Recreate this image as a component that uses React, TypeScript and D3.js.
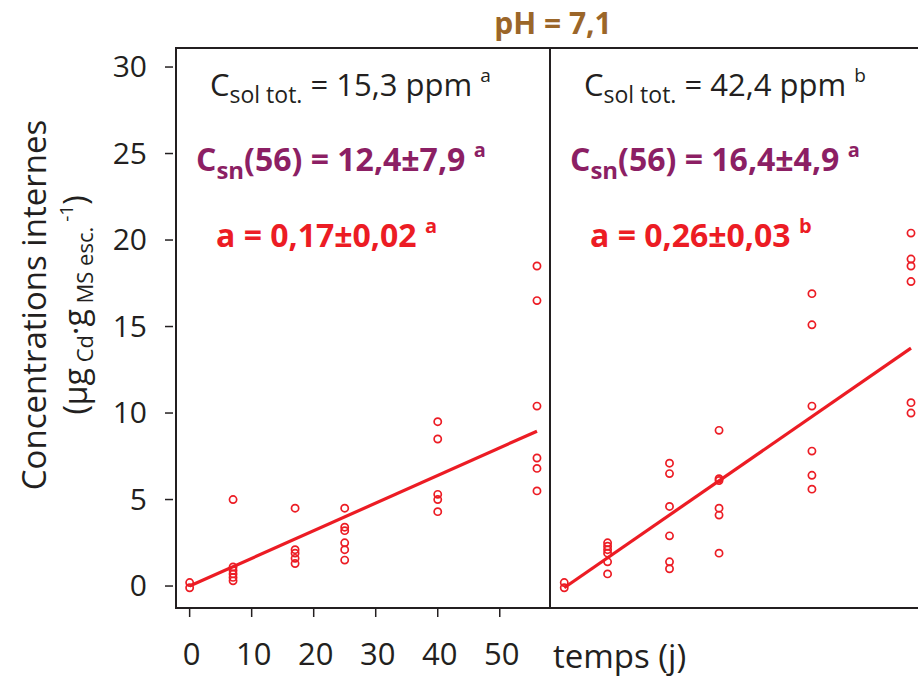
import * as d3 from "d3";

// sampling days (same for both soils)
const days = [0, 7, 17, 25, 40, 56];

// internal concentrations, soil at 15,3 ppm
const leftValues = [
  [0.2, -0.1],
  [5.0, 1.1, 0.9, 0.7, 0.5, 0.3],
  [4.5, 2.1, 1.9, 1.6, 1.3],
  [4.5, 3.4, 3.2, 2.5, 2.1, 1.5],
  [9.5, 8.5, 5.3, 5.0, 4.3],
  [18.5, 16.5, 10.4, 7.4, 6.8, 5.5],
];

// internal concentrations, soil at 42,4 ppm
const rightValues = [
  [0.2, -0.1],
  [2.5, 2.3, 2.1, 1.9, 1.4, 0.7],
  [7.1, 6.5, 4.6, 2.9, 1.4, 1.0],
  [9.0, 6.2, 6.1, 4.5, 4.1, 1.9],
  [16.9, 15.1, 10.4, 7.8, 6.4, 5.6],
  [20.4, 18.9, 18.5, 17.6, 10.6, 10.0],
];

// fitted lines (day, value)
const leftFit = [[0, 0.0], [56, 8.95]];
const rightFit = [[0, -0.1], [56, 13.75]];

const yTicks = [0, 5, 10, 15, 20, 25, 30];
const xTicks = [0, 10, 20, 30, 40, 50];

const panelLabels = [
  { sol: "15,3", solSup: "a", csn: "12,4±7,9", csnSup: "a", slope: "0,17±0,02", slopeSup: "a" },
  { sol: "42,4", solSup: "b", csn: "16,4±4,9", csnSup: "a", slope: "0,26±0,03", slopeSup: "b" },
];

const RED = "#ec1c24";
const PURPLE = "#8c1f64";
const BROWN = "#9b6629";
const INK = "#231f20";
const FONT = "'Open Sans', sans-serif";

function Panel({ x, y, values, fit, label, showTicks }) {
  const line = d3
    .line()
    .x((d) => x(d[0]))
    .y((d) => y(d[1]));
  const [x0] = x.range();
  return (
    <g>
      <path d={line(fit)} fill="none" stroke={RED} strokeWidth={3.2} />
      {days.map((day, i) =>
        values[i].map((v, j) => (
          <circle key={`${i}-${j}`} cx={x(day)} cy={y(v)} r={3.6} fill="none" stroke={RED} strokeWidth={1.7} />
        ))
      )}
      {showTicks &&
        xTicks.map((t) => (
          <g key={t}>
            <line x1={x(t)} x2={x(t)} y1={y.range()[0]} y2={y.range()[0] + 9} stroke={INK} strokeWidth={1.5} />
            <text x={x(t) + 2} y={665} textAnchor="middle" fontSize={31} fill={INK}>{t}</text>
          </g>
        ))}
      <text x={x0 + 34} y={96} fontSize={31} fill={INK}>
        C<tspan fontSize={23} dy={7}>sol tot.</tspan>
        <tspan dy={-7}> = {label.sol} ppm </tspan>
        <tspan fontSize={19} dy={-14}>{label.solSup}</tspan>
      </text>
      <text x={x0 + 20} y={171} fontSize={32} fontWeight="bold" fill={PURPLE}>
        C<tspan fontSize={24} dy={8}>sn</tspan>
        <tspan dy={-8}>(56) = {label.csn} </tspan>
        <tspan fontSize={20} dy={-14}>{label.csnSup}</tspan>
      </text>
      <text x={x0 + 40} y={247} fontSize={32} fontWeight="bold" fill={RED}>
        a = {label.slope} <tspan fontSize={20} dy={-14}>{label.slopeSup}</tspan>
      </text>
    </g>
  );
}

export default function App() {
  const width = 918;
  const height = 678;
  const top = 48;
  const bottom = 608;

  const y = d3.scaleLinear().domain([-1.27, 31.1]).range([bottom, top]);
  const xLeft = d3.scaleLinear().domain([-2.2, 58.1]).range([176, 550]);
  const xRight = d3.scaleLinear().domain([-2.3, 58.1]).range([550, 924]);

  return (
    <svg
      width={width}
      height={height}
      viewBox={`0 0 ${width} ${height}`}
      style={{ position: "absolute", left: 0, top: 0, background: "#fff" }}
      fontFamily={FONT}
    >
      <text x={553} y={34} textAnchor="middle" fontSize={30} fontWeight="bold" fill={BROWN}>
        pH = 7,1
      </text>

      {/* frame */}
      <g stroke={INK} strokeWidth={2} fill="none">
        <line x1={176} x2={176} y1={top} y2={bottom} />
        <line x1={550} x2={550} y1={top} y2={bottom} />
        <line x1={175} x2={918} y1={top} y2={top} />
        <line x1={175} x2={918} y1={bottom} y2={bottom} />
      </g>

      {/* y axis */}
      {yTicks.map((t) => (
        <g key={t}>
          <line x1={165} x2={173} y1={y(t)} y2={y(t)} stroke={INK} strokeWidth={1.5} />
          <text x={147} y={y(t)} dy="0.34em" textAnchor="end" fontSize={30} fill={INK}>{t}</text>
        </g>
      ))}

      <text transform="translate(46,305) rotate(-90)" textAnchor="middle" fontSize={33} fill={INK}>
        Concentrations internes
      </text>
      <text transform="translate(87,305) rotate(-90)" textAnchor="middle" fontSize={32} fill={INK}>
        (µg<tspan fontSize={22} dy={6}> Cd</tspan>
        <tspan dy={-6}>·g</tspan>
        <tspan fontSize={22} dy={6}> MS esc.</tspan>
        <tspan fontSize={19} dy={-20}> -1</tspan>
        <tspan dy={14}>)</tspan>
      </text>

      <Panel x={xLeft} y={y} values={leftValues} fit={leftFit} label={panelLabels[0]} showTicks />
      <Panel x={xRight} y={y} values={rightValues} fit={rightFit} label={panelLabels[1]} showTicks={false} />

      <text x={553} y={668} fontSize={33} fill={INK}>temps (j)</text>
    </svg>
  );
}
